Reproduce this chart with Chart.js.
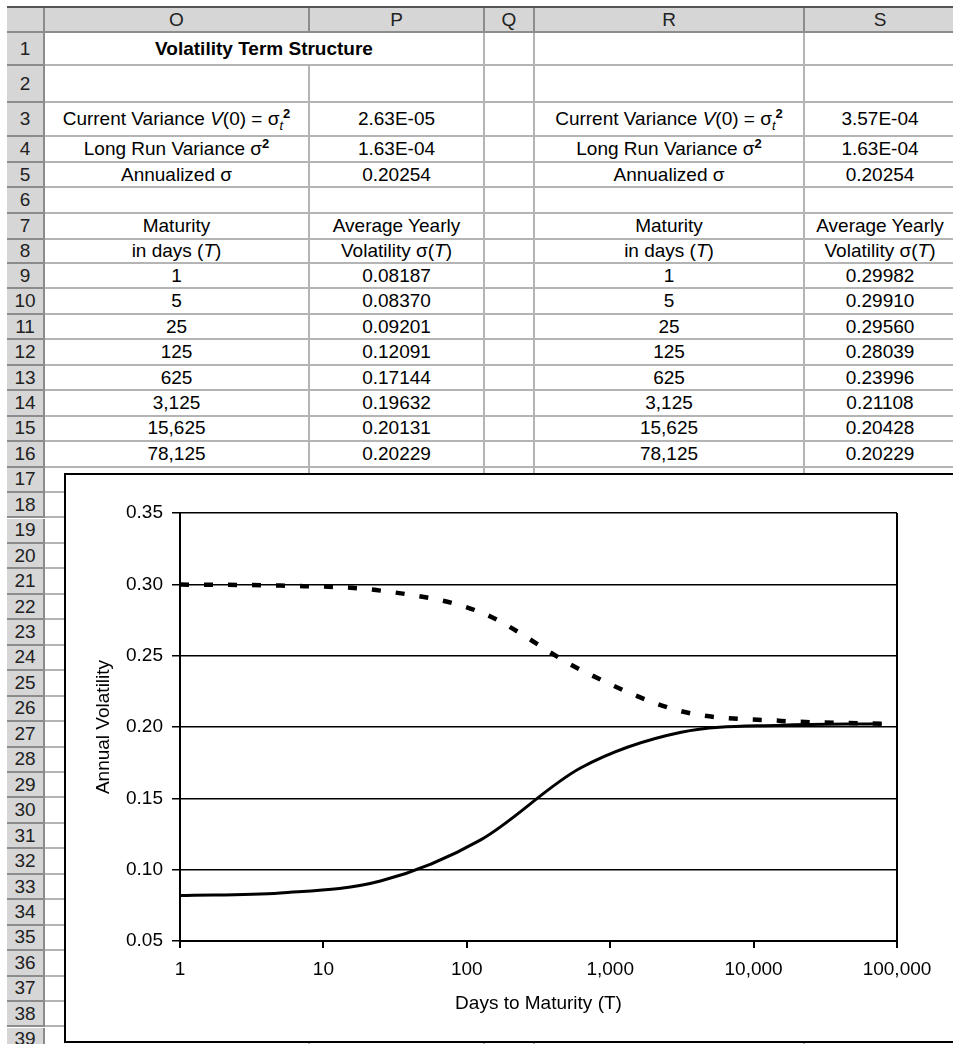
<!DOCTYPE html>
<html>
<head>
<meta charset="utf-8">
<title>Volatility Term Structure</title>
<script src="https://cdn.jsdelivr.net/npm/chart.js@4.4.1/dist/chart.umd.min.js"></script>
<style>
  html, body { margin: 0; padding: 0; background: #fff; }
  #sheet {
    position: relative; width: 953px; height: 1044px; overflow: hidden;
    font-family: "Liberation Sans", Arial, sans-serif; font-size: 19px; color: #000;
  }
  .cell {
    position: absolute; box-sizing: border-box;
    display: flex; align-items: center; justify-content: center;
    white-space: nowrap;
    border-right: 2px solid #b4b4b4; border-bottom: 2px solid #b4b4b4;
  }
  .hdr {
    background: #d6d6d6; color: #222;
    border-right: 2px solid #8c8c8c; border-bottom: 2px solid #8c8c8c;
  }
  .bold { font-weight: bold; }
  .sub, .sup { font-size: 13px; line-height: 0; position: relative; }
  .sub { top: 5px; font-style: italic; }
  .sup { top: -7px; font-weight: bold; }
  #topline { position: absolute; left: 7px; top: 6px; width: 950px; height: 2px; background: #555; }
  #chartBox {
    position: absolute; left: 64px; top: 473px; width: 887px; height: 566px;
    border: 2px solid #000; background: #fff;
  }
  #chart { display: block; }
</style>
</head>
<body>
<div id="sheet">
  <div id="topline"></div>
  <div id="chartBox"><canvas id="chart" width="887" height="566"></canvas></div>
</div>
<script>
// inputs
const currentVarLow = '2.63E-05';
const currentVarHigh = '3.57E-04';
const longRunVar = '1.63E-04';
const annualSigma = '0.20254';

// maturities (days) and average yearly volatility for each starting variance
const maturities = [1, 5, 25, 125, 625, 3125, 15625, 78125];
const volLow = [0.08187, 0.08370, 0.09201, 0.12091, 0.17144, 0.19632, 0.20131, 0.20229];
const volHigh = [0.29982, 0.29910, 0.29560, 0.28039, 0.23996, 0.21108, 0.20428, 0.20229];

const colLetters = ['O', 'P', 'Q', 'R', 'S'];
const xTicks = [1, 10, 100, 1000, 10000, 100000];

// grid geometry
const colEdges = [7, 45, 310, 485, 535, 805, 957];
const rowHeights = [25, 33, 37, 34, 26, 25, 26, 26, 24];
for (let i = 0; i < 31; i++) rowHeights.push(25.45);

const fmtInt = v => String(v).replace(/\B(?=(\d{3})+(?!\d))/g, ',');

const curVarLabel = 'Current Variance <i>V</i>(0) = σ<span class="sub">t</span><span class="sup">2</span>';
const lrVarLabel = 'Long Run Variance σ<span class="sup">2</span>';

// cell text per row: [O, P, Q, R, S]
const rowText = {
  3: [curVarLabel, currentVarLow, '', curVarLabel, currentVarHigh],
  4: [lrVarLabel, longRunVar, '', lrVarLabel, longRunVar],
  5: ['Annualized σ', annualSigma, '', 'Annualized σ', annualSigma],
  7: ['Maturity', 'Average Yearly', '', 'Maturity', 'Average Yearly'],
  8: ['in days (<i>T</i>)', 'Volatility σ(<i>T</i>)', '', 'in days (<i>T</i>)', 'Volatility σ(<i>T</i>)']
};
maturities.forEach((t, i) => {
  rowText[9 + i] = [fmtInt(t), volLow[i].toFixed(5), '', fmtInt(t), volHigh[i].toFixed(5)];
});

const sheet = document.getElementById('sheet');
const chartBox = document.getElementById('chartBox');

function addCell(x0, y0, x1, y1, html, cls) {
  const d = document.createElement('div');
  d.className = 'cell' + (cls ? ' ' + cls : '');
  d.style.left = x0 + 'px';
  d.style.top = y0 + 'px';
  d.style.width = (x1 - x0) + 'px';
  d.style.height = (y1 - y0) + 'px';
  // wrap so the flex box keeps inner spaces
  d.innerHTML = '<span>' + html + '</span>';
  sheet.insertBefore(d, chartBox);
}

let y = 8;
rowHeights.forEach((h, r) => {
  const y1 = y + h;
  if (r === 0) {
    addCell(colEdges[0], y, colEdges[1], y1, '', 'hdr');
    colLetters.forEach((c, i) => addCell(colEdges[i + 1], y, colEdges[i + 2], y1, c, 'hdr'));
  } else {
    addCell(colEdges[0], y, colEdges[1], y1, String(r), 'hdr');
    if (r === 1) {
      addCell(colEdges[1], y, colEdges[3], y1, 'Volatility Term Structure', 'bold');
      for (let i = 2; i < 5; i++) addCell(colEdges[i + 1], y, colEdges[i + 2], y1, '');
    } else {
      const texts = rowText[r] || ['', '', '', '', ''];
      texts.forEach((t, i) => addCell(colEdges[i + 1], y, colEdges[i + 2], y1, t));
    }
  }
  y = y1;
});

Chart.defaults.font.family = "'Liberation Sans', Arial, sans-serif";
Chart.defaults.font.size = 19;
Chart.defaults.color = '#000';

new Chart(document.getElementById('chart'), {
  type: 'line',
  data: {
    datasets: [
      {
        label: 'V(0) = ' + currentVarLow,
        data: maturities.map((t, i) => ({ x: t, y: volLow[i] })),
        borderColor: '#000',
        borderWidth: 3,
        pointRadius: 0,
        cubicInterpolationMode: 'monotone',
        fill: false
      },
      {
        label: 'V(0) = ' + currentVarHigh,
        data: maturities.map((t, i) => ({ x: t, y: volHigh[i] })),
        borderColor: '#000',
        borderWidth: 4.5,
        borderDash: [9, 15],
        pointRadius: 0,
        cubicInterpolationMode: 'monotone',
        fill: false
      }
    ]
  },
  options: {
    responsive: false,
    animation: false,
    devicePixelRatio: 1,
    layout: { padding: { top: 38, right: 56, bottom: 0, left: 0 } },
    plugins: { legend: { display: false }, tooltip: { enabled: false } },
    scales: {
      x: {
        type: 'logarithmic',
        min: 1,
        max: 100000,
        afterBuildTicks: scale => { scale.ticks = xTicks.map(v => ({ value: v })); },
        afterFit: scale => { scale.height = 100; },
        ticks: {
          autoSkip: false,
          maxRotation: 0,
          padding: 10,
          callback: v => fmtInt(v)
        },
        grid: {
          color: c => (c.tick && c.tick.value === 100000 ? '#000' : 'rgba(0,0,0,0)'),
          lineWidth: 2,
          tickColor: '#000',
          tickLength: 7
        },
        border: { color: '#000', width: 2 },
        title: {
          display: true,
          text: 'Days to Maturity (T)',
          padding: { top: 0, bottom: 26 }
        }
      },
      y: {
        min: 0.05,
        max: 0.35,
        afterFit: scale => { scale.width = 114; },
        ticks: {
          stepSize: 0.05,
          padding: 9,
          callback: v => Number(v).toFixed(2)
        },
        grid: { color: '#000', lineWidth: 1.5, tickColor: '#000', tickLength: 8 },
        border: { color: '#000', width: 2 },
        title: {
          display: true,
          text: 'Annual Volatility',
          padding: { top: 26, bottom: 0 }
        }
      }
    }
  }
});
</script>
</body>
</html>
